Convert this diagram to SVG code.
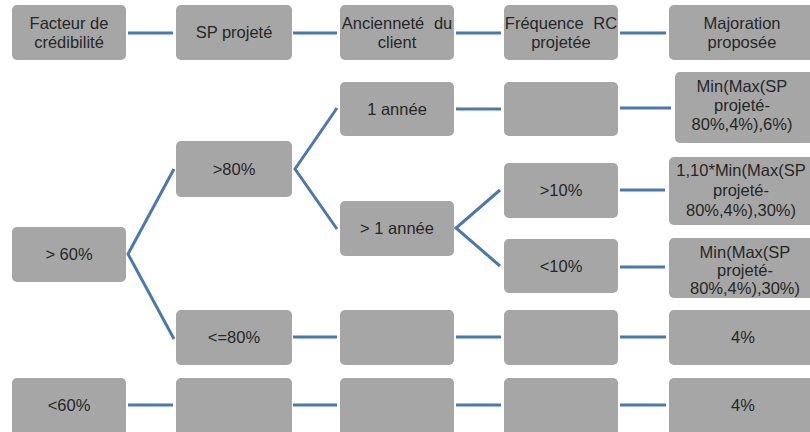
<svg xmlns="http://www.w3.org/2000/svg" width="810" height="432" viewBox="0 0 810 432">
<style>
.b{fill:#a6a6a6;}
.t{font-family:"Liberation Sans",Arial,sans-serif;font-size:16.5px;fill:#262626;text-anchor:middle;}
.c{stroke:#4a78b0;stroke-width:3;fill:none;stroke-linejoin:miter;}
</style>
<rect width="810" height="432" fill="#ffffff"/>
<g id="connectors" class="c">
<path d="M128,33H173M293,33H337M456,33H501M620,33H666"/>
<path d="M174,169L128,254L174,339"/>
<path d="M337,108L295,169L337,229"/>
<path d="M456,109H501M620,108H671"/>
<path d="M500,190L456,228L500,266"/>
<path d="M620,190H665M620,267H665"/>
<path d="M293,337H337M456,337H501M620,337H666"/>
<path d="M128,405H173M293,405H337M456,405H501M620,405H666"/>
</g>
<g id="h1"><rect class="b" x="12" y="5" width="114" height="55" rx="5"/><text class="t" x="69" y="29">Facteur de</text><text class="t" x="69" y="48">crédibilité</text></g>
<g id="h2"><rect class="b" x="176" y="5" width="116" height="55" rx="5"/><text class="t" x="234" y="38">SP projeté</text></g>
<g id="h3"><rect class="b" x="340" y="5" width="114" height="55" rx="5"/><text class="t" x="397" y="29" word-spacing="5">Ancienneté du</text><text class="t" x="397" y="48">client</text></g>
<g id="h4"><rect class="b" x="504" y="5" width="114" height="55" rx="5"/><text class="t" x="561" y="29" word-spacing="5">Fréquence RC</text><text class="t" x="561" y="48">projetée</text></g>
<g id="h5"><rect class="b" x="669" y="5" width="145" height="55" rx="5"/><text class="t" x="742" y="29">Majoration</text><text class="t" x="742" y="48">proposée</text></g>

<g id="n_gt60"><rect class="b" x="12" y="227" width="114" height="55" rx="5"/><text class="t" x="69" y="260">&gt; 60%</text></g>
<g id="n_lt60"><rect class="b" x="12" y="378" width="114" height="58" rx="5"/><text class="t" x="69" y="411">&lt;60%</text></g>

<g id="n_gt80"><rect class="b" x="176" y="141" width="116" height="56" rx="5"/><text class="t" x="234" y="175">&gt;80%</text></g>
<g id="n_le80"><rect class="b" x="176" y="310" width="116" height="55" rx="5"/><text class="t" x="234" y="343">&lt;=80%</text></g>
<g id="n_sp_empty"><rect class="b" x="176" y="378" width="116" height="58" rx="5"/></g>

<g id="n_1an"><rect class="b" x="340" y="82" width="114" height="54" rx="5"/><text class="t" x="397" y="115">1 année</text></g>
<g id="n_gt1an"><rect class="b" x="340" y="201" width="114" height="55" rx="5"/><text class="t" x="397" y="234">&gt; 1 année</text></g>
<g id="n_anc_le80"><rect class="b" x="340" y="310" width="114" height="55" rx="5"/></g>
<g id="n_anc_lt60"><rect class="b" x="340" y="378" width="114" height="58" rx="5"/></g>

<g id="n_freq_1an"><rect class="b" x="504" y="82" width="114" height="54" rx="5"/></g>
<g id="n_gt10"><rect class="b" x="504" y="163" width="114" height="55" rx="5"/><text class="t" x="561" y="196">&gt;10%</text></g>
<g id="n_lt10"><rect class="b" x="504" y="239" width="114" height="54" rx="5"/><text class="t" x="561" y="272">&lt;10%</text></g>
<g id="n_freq_le80"><rect class="b" x="504" y="310" width="114" height="55" rx="5"/></g>
<g id="n_freq_lt60"><rect class="b" x="504" y="378" width="114" height="58" rx="5"/></g>

<g id="r1"><rect class="b" x="675" y="72" width="140" height="71" rx="5"/><text class="t" x="742" y="92">Min(Max(SP</text><text class="t" x="742" y="111">projeté-</text><text class="t" x="742" y="130">80%,4%),6%)</text></g>
<g id="r2"><rect class="b" x="669" y="157" width="145" height="68" rx="5"/><text class="t" x="741" y="176">1,10*Min(Max(SP</text><text class="t" x="741" y="196">projeté-</text><text class="t" x="741" y="216">80%,4%),30%)</text></g>
<g id="r3"><rect class="b" x="669" y="238" width="145" height="60" rx="5"/><text class="t" x="745" y="258">Min(Max(SP</text><text class="t" x="745" y="276">projeté-</text><text class="t" x="745" y="294">80%,4%),30%)</text></g>
<g id="r4"><rect class="b" x="669" y="310" width="145" height="55" rx="5"/><text class="t" x="743" y="343">4%</text></g>
<g id="r5"><rect class="b" x="669" y="378" width="145" height="58" rx="5"/><text class="t" x="743" y="411">4%</text></g>
</svg>
